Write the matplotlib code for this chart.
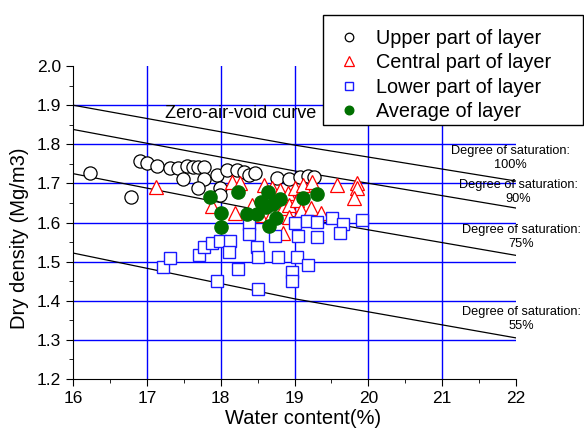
import numpy as np
import matplotlib
matplotlib.use("Agg")
import matplotlib.pyplot as plt
from matplotlib.ticker import MultipleLocator
from matplotlib.patches import Rectangle

plt.rcParams['font.family'] = ['Liberation Sans', 'DejaVu Sans']

# upper part of layer (open circles)
upper_w = [16.23, 16.78, 16.91, 17.00, 17.14, 17.31, 17.42, 17.54, 17.62, 17.69,
           17.78, 17.49, 17.78, 17.69, 17.95, 17.99, 17.99, 18.09, 18.22, 18.32,
           18.39, 18.46, 18.76, 18.93, 19.07, 19.18, 19.27]
upper_d = [1.727, 1.665, 1.757, 1.752, 1.744, 1.739, 1.739, 1.744, 1.742, 1.742,
           1.742, 1.711, 1.711, 1.688, 1.721, 1.688, 1.670, 1.734, 1.734, 1.729,
           1.721, 1.726, 1.714, 1.711, 1.716, 1.719, 1.716]

# central part of layer (open triangles)
central_w = [17.12, 17.88, 18.19, 18.16, 18.26, 18.43, 18.53, 18.59, 18.69, 18.69,
             18.80, 18.84, 18.84, 18.91, 18.93, 18.93, 19.00, 19.03, 19.09, 19.11,
             19.24, 19.23, 19.36, 19.58, 19.84, 19.84, 19.81]
central_d = [1.691, 1.641, 1.624, 1.704, 1.701, 1.645, 1.620, 1.696, 1.688, 1.624,
             1.683, 1.637, 1.573, 1.675, 1.645, 1.614, 1.688, 1.658, 1.632, 1.696,
             1.704, 1.637, 1.624, 1.696, 1.701, 1.688, 1.663]

# lower part of layer (open squares)
lower_w = [17.22, 17.31, 17.70, 17.78, 17.88, 17.99, 18.12, 18.11, 17.95, 18.24,
           18.38, 18.38, 18.49, 18.51, 18.51, 18.74, 18.78, 19.00, 19.05, 19.03,
           18.96, 18.97, 19.18, 19.17, 19.31, 19.30, 19.51, 19.65, 19.62, 19.92]
lower_d = [1.486, 1.509, 1.517, 1.538, 1.548, 1.553, 1.553, 1.525, 1.450, 1.482,
           1.596, 1.570, 1.538, 1.511, 1.430, 1.565, 1.511, 1.598, 1.565, 1.511,
           1.474, 1.451, 1.492, 1.603, 1.602, 1.563, 1.612, 1.596, 1.574, 1.607]

# average of layer (filled green)
avg_w = [17.85, 18.01, 18.01, 18.24, 18.36, 18.49, 18.55, 18.64, 18.71, 18.80,
         18.75, 18.65, 19.11, 19.30, 18.62]
avg_d = [1.666, 1.624, 1.589, 1.678, 1.622, 1.622, 1.653, 1.678, 1.648, 1.660,
         1.612, 1.592, 1.663, 1.673, 1.640]

# saturation curves read at w = 16, 19, 22
curve_w = [16, 19, 22]
sat_100 = [1.900, 1.798, 1.706]
sat_90 = [1.838, 1.732, 1.637]
sat_75 = [1.725, 1.614, 1.516]
sat_55 = [1.522, 1.405, 1.305]

fig = plt.figure(figsize=(5.84, 4.29), dpi=100)
ax = fig.add_axes([0.125, 0.1166, 0.7586, 0.7294])

ax.set_xlim(16, 22)
ax.set_ylim(1.2, 2.0)

# blue grid, only inside the frame
for x in [17, 18, 19, 20, 21]:
    ax.axvline(x, color='#0000ff', lw=1.0, zorder=1)
for y in [1.3, 1.4, 1.5, 1.6, 1.7, 1.8, 1.9]:
    ax.axhline(y, color='#0000ff', lw=1.0, zorder=1)

for s in [sat_100, sat_90, sat_75, sat_55]:
    ax.plot(curve_w, s, color='black', lw=0.9, zorder=2)

ax.plot(upper_w, upper_d, 'o', ms=9.5, mfc='white', mec='black', mew=0.9,
        label='Upper part of layer', zorder=3)
ax.plot(central_w, central_d, '^', ms=10, mfc='white', mec='red', mew=0.9,
        label='Central part of layer', zorder=4)
ax.plot(lower_w, lower_d, 's', ms=8, mfc='white', mec='#1a1aff', mew=1.0,
        label='Lower part of layer', zorder=5)
ax.plot(avg_w, avg_d, 'o', ms=9.5, color='#007000', mec='#007000',
        label='Average of layer', zorder=6)

ax.text(17.24, 1.88, 'Zero-air-void curve', fontsize=13, va='center')
ax.text(21.93, 1.765, 'Degree of saturation:\n100%', fontsize=9.2, ha='center',
        va='center', clip_on=False)
ax.text(22.03, 1.678, 'Degree of saturation:\n90%', fontsize=9.2, ha='center',
        va='center', clip_on=False)
ax.text(22.07, 1.563, 'Degree of saturation:\n75%', fontsize=9.2, ha='center',
        va='center', clip_on=False)
ax.text(22.07, 1.353, 'Degree of saturation:\n55%', fontsize=9.2, ha='center',
        va='center', clip_on=False)

ax.spines['top'].set_visible(False)
ax.spines['right'].set_visible(False)
ax.xaxis.set_major_locator(MultipleLocator(1))
ax.xaxis.set_minor_locator(MultipleLocator(0.5))
ax.yaxis.set_major_locator(MultipleLocator(0.1))
ax.yaxis.set_minor_locator(MultipleLocator(0.05))
ax.yaxis.set_major_formatter(matplotlib.ticker.FormatStrFormatter('%.1f'))
ax.tick_params(which='major', direction='out', length=5, labelsize=12.5)
ax.tick_params(which='minor', direction='out', length=3)

ax.set_xlabel('Water content(%)', fontsize=14.5)
ax.set_ylabel('Dry density (Mg/m3)', fontsize=14.5)
ax.xaxis.set_label_coords(0.519, -0.095)
ax.yaxis.set_label_coords(-0.10, 0.45)

# legend without its own frame; the white box is drawn separately
leg = fig.legend(loc='upper left', bbox_to_anchor=(0.553, 0.7086, 0.445, 0.2564),
                 mode='expand', fontsize=14.3,
                 markerscale=0.65, frameon=False,
                 labelspacing=0.27, borderpad=0.7, handlelength=1.2,
                 handletextpad=0.75, borderaxespad=0)
leg.set_zorder(6)
fig.patches.append(Rectangle((0.553, 0.7086), 0.445, 0.2564, transform=fig.transFigure,
                             facecolor='white', edgecolor='black', lw=1.0, zorder=4))

fig.savefig('out.png', dpi=100)
